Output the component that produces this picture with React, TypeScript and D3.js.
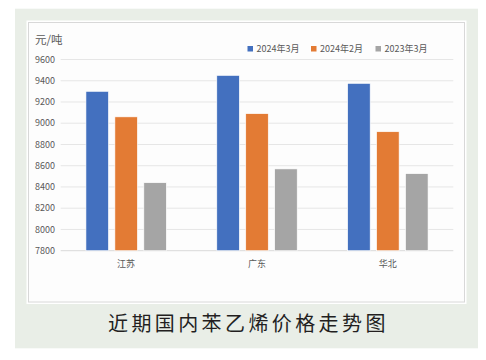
import React from "react";
import * as d3 from "d3";

const categories = ["江苏", "广东", "华北"];
const seriesNames = ["2024年3月", "2024年2月", "2023年3月"];
const values2024Mar = [9300, 9450, 9375];
const values2024Feb = [9060, 9090, 8920];
const values2023Mar = [8440, 8570, 8525];
const yTicks = [7800, 8000, 8200, 8400, 8600, 8800, 9000, 9200, 9400, 9600];
const colors = ["#4370bf", "#e37b34", "#a5a5a5"];

export default function App() {
  const W = 486, H = 360;
  const series = [values2024Mar, values2024Feb, values2023Mar];
  const y = d3.scaleLinear().domain([7800, 9600]).range([250.7, 59.5]);
  const x0 = d3.scaleBand().domain(categories).range([60.7, 453.3]).paddingInner(0).paddingOuter(0);
  const x1 = d3
    .scaleBand()
    .domain(seriesNames)
    .range([0, x0.bandwidth()])
    .paddingInner(0.223)
    .paddingOuter(0.872);
  const font = "'Noto Sans CJK SC', 'Noto Sans', sans-serif";
  const legendX = [247.5, 311, 375.5];
  return (
    <svg
      width={W}
      height={H}
      style={{ position: "absolute", left: 0, top: 0 }}
      fontFamily={font}
    >
      <rect x={0} y={0} width={W} height={H} fill="#ffffff" />
      <rect x={15} y={8.7} width={463} height={339.6} fill="#e9eee7" />
      <rect x={26.5} y={20.5} width={440} height={283.5} fill="#ffffff" />
      <rect x={28.5} y={22.5} width={436} height={279.5} fill="#fdfdfd" stroke="#d8d8d8" strokeWidth={1} />
      {yTicks.map((t) => (
        <g key={t}>
          <line
            x1={60.7}
            x2={453.3}
            y1={y(t)}
            y2={y(t)}
            stroke={t === 7800 ? "#d9d9d9" : "#e6e6e6"}
            strokeWidth={1}
          />
          <text x={55} y={y(t)} dy="0.35em" textAnchor="end" fontSize={9} fill="#595959">
            {t}
          </text>
        </g>
      ))}
      <text x={35} y={44} fontSize={11.5} fill="#595959">
        元/吨
      </text>
      {categories.map((c, i) => (
        <g key={c} transform={`translate(${x0(c)},0)`}>
          {series.map((s, j) => (
            <rect
              key={j}
              x={x1(seriesNames[j])}
              y={y(s[i])}
              width={x1.bandwidth()}
              height={y(7800) - y(s[i])}
              fill={colors[j]}
              stroke="#ffffff"
              strokeWidth={0.6}
            />
          ))}
          <text
            x={x0.bandwidth() / 2}
            y={267}
            textAnchor="middle"
            fontSize={9}
            fill="#595959"
          >
            {c}
          </text>
        </g>
      ))}
      {seriesNames.map((n, j) => (
        <g key={n}>
          <rect x={legendX[j]} y={46} width={5.5} height={5.5} fill={colors[j]} />
          <text x={legendX[j] + 9} y={49} dy="0.35em" fontSize={9} fill="#595959">
            {n}
          </text>
        </g>
      ))}
      <text
        x={108}
        y={331}
        fontSize={20}
        letterSpacing={3.4}
        fill="#231f1f"
      >
        近期国内苯乙烯价格走势图
      </text>
    </svg>
  );
}
